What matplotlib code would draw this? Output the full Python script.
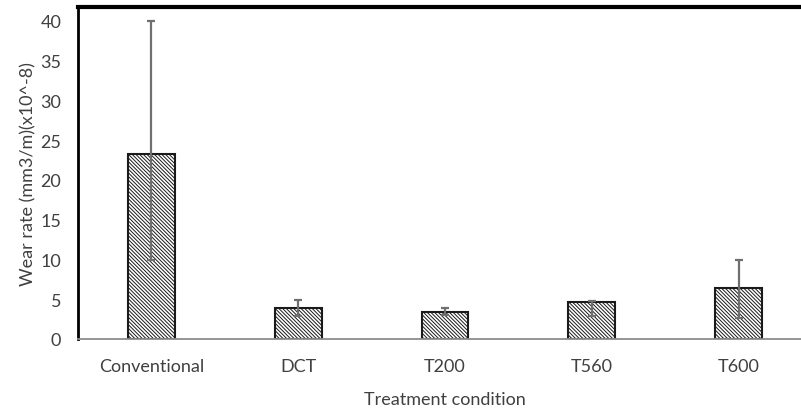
import matplotlib
matplotlib.use('Agg')
import matplotlib.pyplot as plt
import numpy as np

plt.rcParams['font.family'] = ['Lato', 'DejaVu Sans']
plt.rcParams['hatch.linewidth'] = 0.7
plt.rcParams['hatch.color'] = '#2a2a2a'

categories = ['Conventional', 'DCT', 'T200', 'T560', 'T600']
wear_rate = [23.3, 3.85, 3.4, 4.6, 6.4]
err_upper = [40.0, 4.9, 3.9, 4.8, 9.9]
err_lower = [9.9, 2.9, 3.0, 2.9, 2.65]
yticks = [0, 5, 10, 15, 20, 25, 30, 35, 40]

W, H = 801, 410
fig = plt.figure(figsize=(W / 100, H / 100), dpi=100)
ax = fig.add_axes([78 / W, (H - 340) / H, (812 - 78) / W, (340 - 7.5) / H])

x = np.arange(len(categories))
vals = np.array(wear_rate)
yerr = [vals - np.array(err_lower), np.array(err_upper) - vals]

ax.bar(x, vals, width=0.32, color='white', edgecolor='#1a1a1a', linewidth=1.5,
       hatch='\\' * 9, zorder=2)
ax.errorbar(x, vals, yerr=yerr, fmt='none', ecolor='#6f6f6f', elinewidth=1.6,
            capsize=3, capthick=1.6, zorder=3)

ax.set_xlim(-0.5, 4.5)
ax.set_ylim(0, 41.8)
ax.set_yticks(yticks)
ax.set_xticks(x)
ax.set_xticklabels(categories)
ax.tick_params(axis='x', length=0, labelsize=13, colors='#404040', pad=14)
ax.tick_params(axis='y', length=0, labelsize=13, colors='#404040', pad=12)

ax.spines['top'].set_linewidth(3)
ax.spines['top'].set_color('black')
ax.spines['left'].set_linewidth(2)
ax.spines['left'].set_color('black')
ax.spines['bottom'].set_linewidth(1.3)
ax.spines['bottom'].set_color('#8c8c8c')
ax.spines['right'].set_visible(False)

ax.set_xlabel('Treatment condition', fontsize=13, color='#404040', labelpad=12)
ax.set_ylabel('Wear rate (mm3/m)(x10^-8)', fontsize=13, color='#404040', labelpad=3)

fig.savefig('out.png', dpi=100)
